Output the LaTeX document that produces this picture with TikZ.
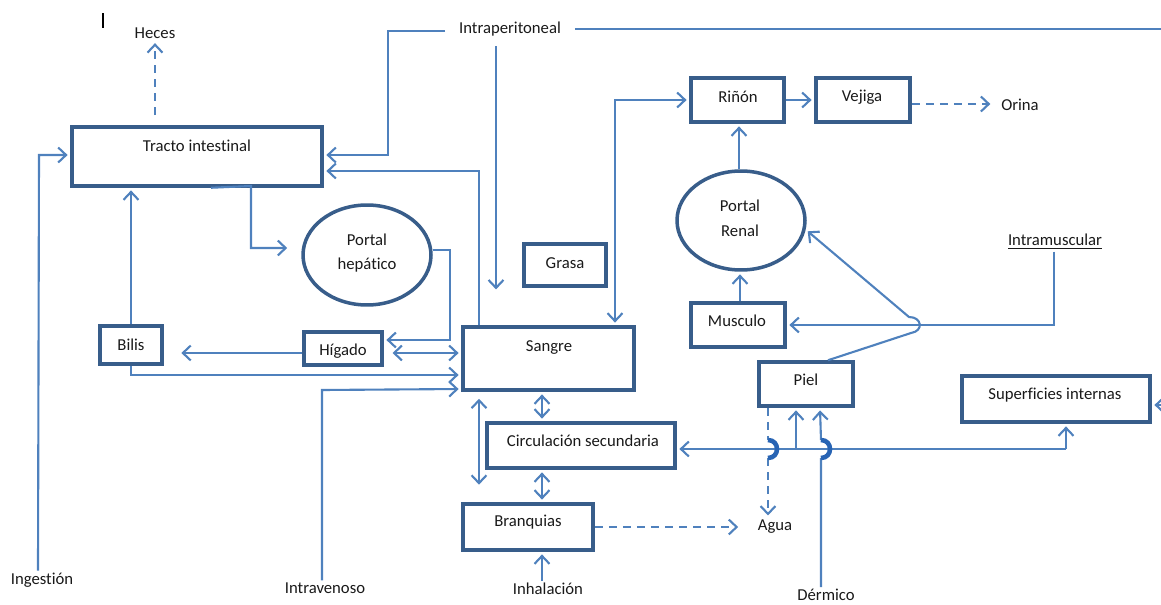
\documentclass[tikz,border=0pt]{standalone}
\usepackage{fontspec}
\setmainfont{Carlito}[Ligatures=NoCommon]
\usetikzlibrary{arrows.meta,shapes.geometric}
\definecolor{boxblue}{RGB}{56,93,138}
\definecolor{linkblue}{RGB}{79,129,189}
\definecolor{hopblue}{RGB}{40,100,180}
\definecolor{ink}{RGB}{25,25,25}
\begin{document}
\begin{tikzpicture}[x=0.02cm,y=-0.02cm,
  font=\fontsize{9.5}{11}\selectfont, text=ink,
  box/.style={draw=boxblue, line width=2pt, rectangle, inner sep=0pt},
  oval/.style={draw=boxblue, line width=2pt, ellipse, inner sep=0pt},
  lbl/.style={inner sep=1pt},
  link/.style={draw=linkblue, line width=1.2pt},
  tip/.style={-{Straight Barb[length=4.5pt,width=8.5pt]}, shorten >=1.5pt},
  tips/.style={{Straight Barb[length=4.5pt,width=8.5pt]}-{Straight Barb[length=4.5pt,width=8.5pt]}, shorten >=1.5pt, shorten <=1.5pt},
  dline/.style={dash pattern=on 4.5pt off 3.5pt},
  hop/.style={draw=hopblue, line width=2.6pt}
]
\useasboundingbox (0,0) rectangle (1161,605);

% text cursor
\draw[black, line width=0.6pt] (103,13) -- (103,28);

% boxes
\node[box, minimum width=5cm,    minimum height=1.18cm] (tracto) at (197,156.5) {};
\node[box, minimum width=1.24cm, minimum height=0.76cm] (bilis)  at (131,345) {};
\node[box, minimum width=1.56cm, minimum height=0.66cm] (higado) at (343,348.5) {};
\node[box, minimum width=3.42cm, minimum height=1.26cm] (sangre) at (548.5,358.5) {};
\node[box, minimum width=1.64cm, minimum height=0.84cm] (grasa)  at (565,265) {};
\node[box, minimum width=1.86cm, minimum height=0.88cm] (rinon)  at (737.5,100) {};
\node[box, minimum width=1.88cm, minimum height=0.88cm] (vejiga) at (863,100) {};
\node[box, minimum width=1.88cm, minimum height=0.88cm] (musculo) at (738,325) {};
\node[box, minimum width=1.88cm, minimum height=0.88cm] (piel)   at (806,384) {};
\node[box, minimum width=3.76cm, minimum height=0.92cm] (superf) at (1056,399) {};
\node[box, minimum width=3.76cm, minimum height=0.90cm] (circ)   at (581,445.5) {};
\node[box, minimum width=2.6cm,  minimum height=0.92cm] (branq)  at (528,527) {};
\node[oval, minimum width=2.56cm, minimum height=2.0cm] (phep)   at (367,255) {};
\node[oval, minimum width=2.56cm, minimum height=1.98cm] (pren)  at (741,220.5) {};

% box texts
\node[lbl] (tractoT) at (197,146) {Tracto intestinal};
\node[lbl] (bilisT)  at (131,345) {Bilis};
\node[lbl] (higadoT) at (343,351) {Hígado};
\node[lbl] (sangreT) at (549,348) {Sangre};
\node[lbl] (grasaT)  at (565,263) {Grasa};
\node[lbl] (rinonT)  at (738,97)  {Riñón};
\node[lbl] (vejigaT) at (862,97)  {Vejiga};
\node[lbl] (musculoT) at (737,321) {Musculo};
\node[lbl] (pielT)   at (806,380) {Piel};
\node[lbl] (superfT) at (1055,395) {Superficies internas};
\node[lbl] (circT)   at (583,441) {Circulación secundaria};
\node[lbl] (branqT)  at (528,522) {Branquias};
\node[lbl, align=center] (phepT) at (367,253) {Portal\\[3pt]hepático};
\node[lbl, align=center] (prenT) at (740,218) {Portal\\[3pt]Renal};

% free labels
\node[lbl] (heces)     at (155,33)  {Heces};
\node[lbl] (ingestion) at (42,580)  {Ingestión};
\node[lbl] (intraper)  at (510,29)  {Intraperitoneal};
\node[lbl] (intraven)  at (325,588) {Intravenoso};
\node[lbl] (inhal)     at (548,589) {Inhalación};
\node[lbl] (agua)      at (775,527) {Agua};
\node[lbl] (dermico)   at (826,595) {Dérmico};
\node[lbl] (orina)     at (1020,105) {Orina};
\node[lbl] (intramusc) at (1055,242) {\underline{Intramuscular}};

% free ends
\coordinate (hecesFrom) at (155,115);
\coordinate (edgeTop) at (1161,29);
\coordinate (edgeRight) at (1166,405);
\coordinate (bus) at (1066,449);

% digestive side
\draw[link, dline, tip] (hecesFrom) -- (heces.south);
\draw[link, tip] (ingestion.north -| 38,0) -- (39,155) -- (tracto.west |- 0,155);
\draw[link, tip] (intraper.west) ++(-12,2) -- (388,31) -- (388,155) -- (tracto.east |- 0,155);
\draw[link] (intraper.east) ++(12,0) -- (edgeTop);
\draw[link, tip, shorten >=17\pgflinewidth] (intraper.south -| 496,0) ++(0,8) -- (sangre.north -| 496,0);
\draw[link, tip] (sangre.north -| 479,0) -- (479,171) -- (tracto.east |- 0,171);
\draw[link, tip, shorten >=8pt] (tracto.south -| 211,0) -- (251,186) -- (251,248) -- (phep.west |- 0,248);
\draw[link, tip] (phep.east |- 0,250) -- (450,250) -- (450,340) -- (higado.east |- 0,340);
\draw[link, tips, shorten <=5pt] (higado.east |- 0,353) -- (sangre.west |- 0,353);
\draw[link, tip, shorten >=10pt] (higado.west |- 0,353) -- (bilis.east |- 0,353);
\draw[link, tip] (bilis.north) -- (tracto.south -| bilis.north);
\draw[link, tip] (bilis.south) -- (131,375) -- (sangre.west |- 0,375);
\draw[link, tip] (intraven.north -| 322,0) -- (322,390) -- (sangre.west |- 0,389);

% kidney side
\draw[link, tips] (sangre.north -| 615,0) -- (615,100) -- (rinon.west |- 0,100);
\draw[link, tip] (rinon.east) -- (vejiga.west);
\draw[link, dline, tip, shorten >=5pt] (vejiga.east |- 0,104) -- (orina.west |- 0,104);
\draw[link, tip] (pren.north -| 739,0) -- (rinon.south -| 739,0);
\draw[link, tip] (musculo.north -| 740,0) -- (pren.south -| 740,0);
\draw[link, tip] (intramusc.south -| 1054,0) -- (1054,325) -- (musculo.east |- 0,325);
\draw[link, tip] (piel.north -| 828,0) -- (911,333) .. controls (924,331) and (922,317) .. (909,317) -- (pren.-8);

% circulation and gills
\draw[link, tips] (sangre.south -| 542,0) -- (circ.north -| 542,0);
\draw[link, tips, shorten <=4pt, shorten >=10pt] (sangre.south -| 479,0) -- (branq.north -| 479,0);
\draw[link, tips] (circ.south -| 542,0) -- (branq.north -| 542,0);
\draw[link, tip] (inhal.north -| 542,0) -- (branq.south -| 542,0);
\draw[link, dline, tip, shorten >=10pt] (branq.east |- 0,527) -- (agua.west |- 0,527);

% skin and internal surfaces
\draw[link, tip] (edgeRight) -- (superf.east |- 0,405);
\draw[link, tip] (bus) -- (circ.east |- 0,449);
\draw[link, tip] (bus) -- (superf.south -| bus);
\draw[link, tip] (796,449) -- (piel.south -| 796,0);
\draw[link, dline, tip] (piel.south -| 768,0) -- (768,440) (768,458) -- (agua.north -| 768,0);
\draw[hop] (768,440) .. controls (780,440) and (780,458) .. (768,458);
\draw[link, tip] (dermico.north -| 821,0) -- (821,458) (821,440) -- (piel.south -| 820,0);
\draw[hop] (821,440) .. controls (833,440) and (833,458) .. (821,458);
\end{tikzpicture}
\end{document}
